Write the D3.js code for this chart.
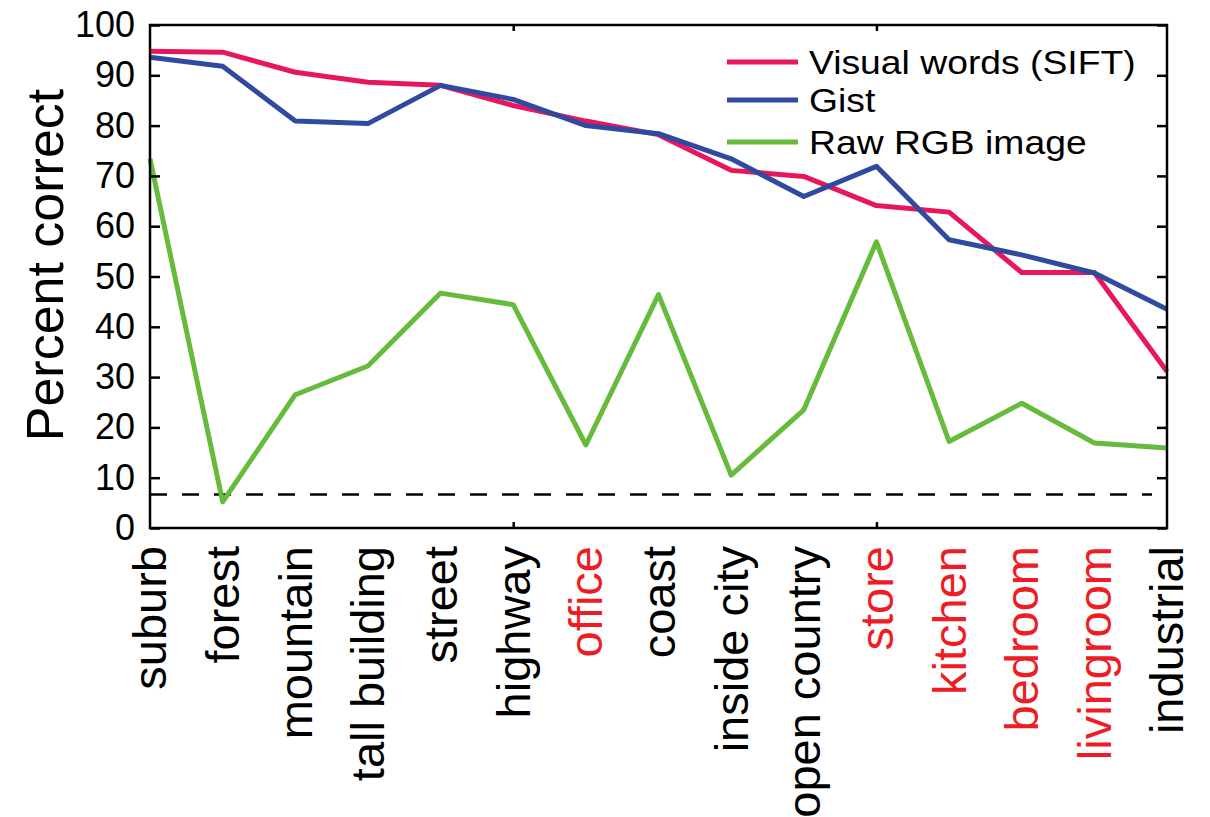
<!DOCTYPE html>
<html>
<head>
<meta charset="utf-8">
<script src="https://cdn.jsdelivr.net/npm/d3@7"></script>
<style>
  body { margin: 0; background: #fff; }
  svg { display: block; font-family: "Liberation Sans", Arial, Helvetica, sans-serif; }
</style>
</head>
<body>
<svg id="chart" width="1210" height="817"></svg>
<script>
// scene categories, red ones are the indoor classes
var categories = ["suburb", "forest", "mountain", "tall building", "street", "highway", "office",
  "coast", "inside city", "open country", "store", "kitchen", "bedroom", "livingroom", "industrial"];
var redCategories = ["office", "store", "kitchen", "bedroom", "livingroom"];

var siftValues = [94.8, 94.6, 90.6, 88.6, 88.0, 84.0, 80.9, 78.2, 71.1, 69.9, 64.1, 62.8, 50.8, 50.8, 31.1];
var gistValues = [93.6, 91.8, 80.9, 80.4, 88.0, 85.2, 80.0, 78.4, 73.4, 65.9, 71.9, 57.3, 54.3, 50.7, 43.5];
var rgbValues  = [73.4, 5.2, 26.5, 32.2, 46.7, 44.4, 16.5, 46.4, 10.5, 23.5, 56.9, 17.2, 24.8, 16.9, 15.9];

var seriesNames = ["Visual words (SIFT)", "Gist", "Raw RGB image"];
var yTicks = [0, 10, 20, 30, 40, 50, 60, 70, 80, 90, 100];
var chanceLevel = 100 / 15;

var colors = ["#e8175d", "#2f4a9f", "#66bb3c"];

var margin = {top: 25, right: 43, bottom: 289, left: 150},
    width = 1210 - margin.left - margin.right,
    height = 817 - margin.top - margin.bottom;

var svg = d3.select("#chart");
var g = svg.append("g").attr("transform", "translate(" + margin.left + "," + margin.top + ")");

var x = d3.scalePoint().domain(categories).range([0, width]);
var y = d3.scaleLinear().domain([0, 100]).range([height, 0]);

// chance line
g.append("line")
  .attr("x1", 0).attr("x2", width - 15)
  .attr("y1", y(chanceLevel)).attr("y2", y(chanceLevel))
  .attr("stroke", "#000").attr("stroke-width", 2.5)
  .attr("stroke-dasharray", "17,15");

// data lines
var line = d3.line()
  .x(function(d, i) { return x(categories[i]); })
  .y(function(d) { return y(d); });

[siftValues, gistValues, rgbValues].forEach(function(vals, k) {
  g.append("path")
    .datum(vals)
    .attr("fill", "none")
    .attr("stroke", colors[k])
    .attr("stroke-width", 5)
    .attr("stroke-linejoin", "round")
    .attr("d", line);
});

// y axis left (ticks inward)
var yAxis = g.append("g")
  .call(d3.axisLeft(y).tickValues(yTicks).tickSizeInner(-10).tickSizeOuter(0).tickPadding(15));
yAxis.select(".domain").remove();
yAxis.selectAll("line").attr("stroke-width", 2.5);
yAxis.selectAll("text").attr("font-size", 36).attr("fill", "#000").attr("font-family", "Liberation Sans, Arial, sans-serif");

// y axis right ticks
var yAxisR = g.append("g").attr("transform", "translate(" + width + ",0)")
  .call(d3.axisRight(y).tickValues(yTicks).tickSizeInner(-10).tickSizeOuter(0).tickFormat(""));
yAxisR.select(".domain").remove();
yAxisR.selectAll("line").attr("stroke-width", 2.5);

// x ticks (highway, store) top and bottom
var xTickCats = ["highway", "store"];
var xAxisB = g.append("g").attr("transform", "translate(0," + height + ")")
  .call(d3.axisBottom(x).tickValues(xTickCats).tickSizeInner(-6).tickSizeOuter(0).tickFormat(""));
xAxisB.select(".domain").remove();
xAxisB.selectAll("line").attr("stroke-width", 2.5);
var xAxisT = g.append("g")
  .call(d3.axisTop(x).tickValues(xTickCats).tickSizeInner(-6).tickSizeOuter(0).tickFormat(""));
xAxisT.select(".domain").remove();
xAxisT.selectAll("line").attr("stroke-width", 2.5);

// frame
g.append("rect")
  .attr("x", 0).attr("y", 0).attr("width", width).attr("height", height)
  .attr("fill", "none").attr("stroke", "#000").attr("stroke-width", 2.5);

// category labels, rotated
g.append("g").selectAll("text")
  .data(categories)
  .enter().append("text")
  .attr("transform", function(d) { return "translate(" + x(d) + "," + (height + 18) + ") rotate(-90)"; })
  .attr("text-anchor", "end")
  .attr("dy", "0.35em")
  .attr("font-size", 47)
  .attr("fill", function(d) { return redCategories.indexOf(d) >= 0 ? "#ee1c24" : "#000"; })
  .text(function(d) { return d; });

// y label
svg.append("text")
  .attr("transform", "translate(45,265) rotate(-90)")
  .attr("text-anchor", "middle")
  .attr("dy", "0.35em")
  .attr("font-size", 52)
  .attr("fill", "#000")
  .text("Percent correct");

// legend (text a bit wider than tall, like the original)
var legendY = [37, 75, 117];
var legend = g.append("g");
seriesNames.forEach(function(name, k) {
  legend.append("line")
    .attr("x1", 577).attr("x2", 648)
    .attr("y1", legendY[k]).attr("y2", legendY[k])
    .attr("stroke", colors[k]).attr("stroke-width", 5);
  legend.append("text")
    .attr("transform", "translate(659," + legendY[k] + ") scale(1.13,1)")
    .attr("dy", "0.35em")
    .attr("font-size", 33)
    .attr("fill", "#000")
    .text(name);
});
</script>
</body>
</html>
